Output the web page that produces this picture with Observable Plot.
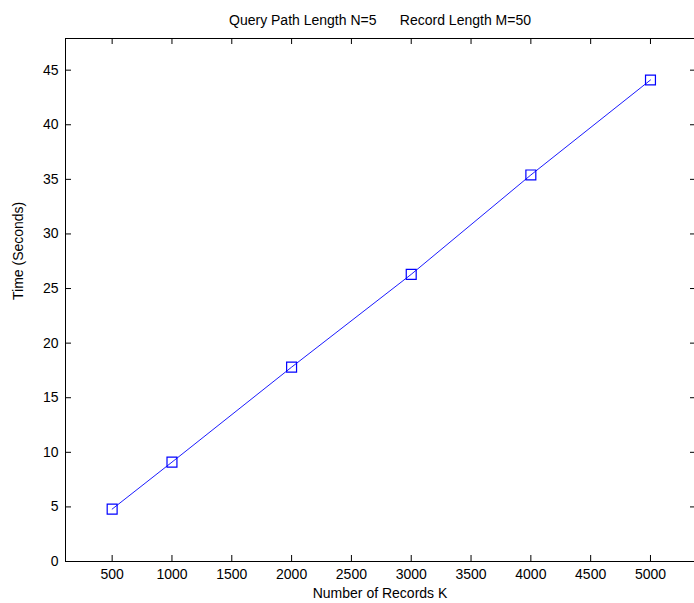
<!DOCTYPE html>
<html>
<head>
<meta charset="utf-8">
<script src="https://cdn.jsdelivr.net/npm/d3@7"></script>
<script src="https://cdn.jsdelivr.net/npm/@observablehq/plot@0.6"></script>
<style>
  html, body { margin: 0; padding: 0; background: #fff; }
  svg text { white-space: pre; }
</style>
</head>
<body>
<div id="chart"></div>
<script>
const records = [500, 1000, 2000, 3000, 4000, 5000];
const times = [4.8, 9.1, 17.8, 26.3, 35.4, 44.1];
const xTicks = [500, 1000, 1500, 2000, 2500, 3000, 3500, 4000, 4500, 5000];
const yTicks = [0, 5, 10, 15, 20, 25, 30, 35, 40, 45];
const xDomain = [110, 5368];
const yDomain = [0, 47.9];
const titleText = "Query Path Length N=5      Record Length M=50";
const xLabel = "Number of Records K";
const yLabel = "Time (Seconds)";

const data = records.map((r, i) => ({records: r, time: times[i]}));

const W = 694, H = 603;
const mL = 65, mR = 0, mT = 38, mB = 42;
const pw = W - mL - mR, ph = H - mT - mB;
const tick = 6;

const chart = Plot.plot({
  width: W,
  height: H,
  marginLeft: mL,
  marginRight: mR,
  marginTop: mT,
  marginBottom: mB,
  style: {fontFamily: "Liberation Sans, Arial, sans-serif", fontSize: "14px", color: "#000", background: "#fff"},
  x: {domain: xDomain, ticks: xTicks, label: null},
  y: {domain: yDomain, ticks: yTicks, label: null},
  marks: [
    Plot.ruleY([yDomain[0]], {stroke: "#000", strokeWidth: 1}),
    Plot.ruleY([yDomain[1]], {stroke: "#000", strokeWidth: 1}),
    Plot.ruleX([xDomain[0]], {stroke: "#000", strokeWidth: 1}),
    Plot.tickX(xTicks, {x: d => d, insetTop: ph - tick, stroke: "#000"}),
    Plot.tickX(xTicks, {x: d => d, insetBottom: ph - tick, stroke: "#000"}),
    Plot.tickY(yTicks, {y: d => d, insetRight: pw - tick, stroke: "#000"}),
    Plot.tickY(yTicks, {y: d => d, insetLeft: pw - 4, stroke: "#000"}),
    Plot.axisX({ticks: xTicks, tickSize: 0, tickPadding: 8, tickFormat: d => String(d), fontSize: 14, fill: "#000"}),
    Plot.axisY({ticks: yTicks, tickSize: 0, tickPadding: 7, tickFormat: d => String(d), fontSize: 14, fill: "#000"}),
    Plot.line(data, {x: "records", y: "time", stroke: "#0000ff", strokeWidth: 0.9}),
    Plot.dot(data, {x: "records", y: "time", symbol: "square", r: 5.6, stroke: "#0000ff", strokeWidth: 1.2, fill: "none"}),
    Plot.text([titleText], {frameAnchor: "top", dy: -23, fontSize: 14, fill: "#000"}),
    Plot.text([xLabel], {frameAnchor: "bottom", dy: 36, fontSize: 14, fill: "#000"}),
    Plot.text([yLabel], {frameAnchor: "left", dx: -47, rotate: -90, fontSize: 14, fill: "#000"})
  ]
});
document.getElementById("chart").appendChild(chart);
</script>
</body>
</html>
